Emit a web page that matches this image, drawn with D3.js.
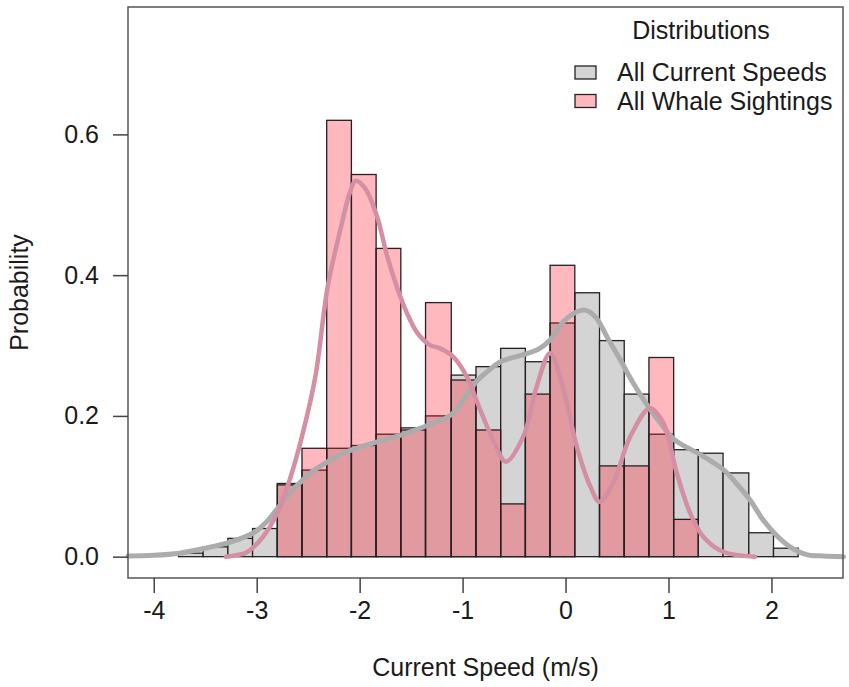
<!DOCTYPE html>
<html>
<head>
<meta charset="utf-8">
<script src="https://cdn.jsdelivr.net/npm/d3@7"></script>
<style>
  body { margin: 0; background: #fff; }
  svg text { font-family: "Liberation Sans", Arial, Helvetica, sans-serif; fill: #1a1a1a; }
</style>
</head>
<body>
<div id="svg"></div>
<script>
// histogram breaks (m/s), shared by both distributions
const breaks = [-3.76, -3.52, -3.28, -3.04, -2.80, -2.56, -2.32, -2.08, -1.84, -1.60,
  -1.36, -1.11, -0.87, -0.63, -0.39, -0.15, 0.09, 0.33, 0.57, 0.81,
  1.05, 1.29, 1.53, 1.78, 2.02, 2.26];

// bin probabilities, one per interval of breaks
const currentProb = [0.005, 0.014, 0.026, 0.040, 0.104, 0.123, 0.154, 0.158, 0.174, 0.183,
  0.200, 0.258, 0.270, 0.296, 0.277, 0.332, 0.375, 0.307, 0.231, 0.174,
  0.152, 0.147, 0.119, 0.034, 0.012];
const whaleProb = [0, 0, 0, 0, 0.102, 0.154, 0.620, 0.543, 0.438, 0.180,
  0.361, 0.251, 0.180, 0.075, 0.231, 0.414, 0, 0.129, 0.129, 0.283,
  0.053, 0, 0, 0, 0];

// density curves [speed, density]
const currentDensity = [[-4.25, 0.001], [-4.0, 0.002], [-3.75, 0.005], [-3.5, 0.012], [-3.25, 0.021],
  [-3.03, 0.034], [-2.9, 0.050], [-2.8, 0.068], [-2.68, 0.090], [-2.56, 0.108], [-2.44, 0.123],
  [-2.32, 0.134], [-2.2, 0.144], [-2.07, 0.152], [-1.83, 0.163], [-1.59, 0.173], [-1.35, 0.186],
  [-1.22, 0.193], [-1.10, 0.203], [-0.98, 0.225], [-0.86, 0.250], [-0.76, 0.263], [-0.63, 0.277],
  [-0.41, 0.287], [-0.25, 0.296], [-0.15, 0.308], [-0.02, 0.334], [0.11, 0.348], [0.20, 0.350],
  [0.30, 0.339], [0.40, 0.313], [0.53, 0.280], [0.66, 0.246], [0.79, 0.216], [0.92, 0.190],
  [1.06, 0.166], [1.31, 0.145], [1.53, 0.124], [1.66, 0.104], [1.79, 0.081], [1.92, 0.052],
  [2.05, 0.030], [2.18, 0.014], [2.34, 0.003], [2.5, 0.001], [2.70, 0.0]];
const whaleDensity = [[-3.30, 0.0], [-3.20, 0.002], [-3.10, 0.006], [-2.94, 0.028], [-2.80, 0.062],
  [-2.68, 0.109], [-2.56, 0.171], [-2.43, 0.256], [-2.31, 0.384], [-2.18, 0.469], [-2.10, 0.515],
  [-2.04, 0.534], [-1.95, 0.524], [-1.83, 0.483], [-1.74, 0.431], [-1.64, 0.384], [-1.54, 0.346],
  [-1.44, 0.318], [-1.32, 0.301], [-1.22, 0.296], [-1.09, 0.284], [-0.96, 0.256], [-0.83, 0.209],
  [-0.70, 0.165], [-0.58, 0.135], [-0.41, 0.171], [-0.28, 0.242], [-0.15, 0.289], [-0.02, 0.237],
  [0.11, 0.156], [0.24, 0.100], [0.33, 0.078], [0.46, 0.104], [0.63, 0.171], [0.82, 0.211],
  [0.95, 0.190], [1.08, 0.119], [1.21, 0.062], [1.34, 0.028], [1.53, 0.007], [1.84, 0.0]];

const xTicks = [-4, -3, -2, -1, 0, 1, 2];
const yTicks = [0, 0.2, 0.4, 0.6];
const legendLabels = ["All Current Speeds", "All Whale Sightings"];

// setup svg component
const width = 849,
      height = 687;
const box = { left: 128, right: 843, top: 7, bottom: 578 };
const fontSize = "25px";

const svg = d3.select("#svg")
  .append("svg")
  .attr("width", width)
  .attr("height", height);

const xScale = d3.scaleLinear()
  .domain([-4.25, 2.695])
  .range([box.left, box.right]);

const yScale = d3.scaleLinear()
  .domain([-0.0303, 0.781])
  .range([box.bottom, box.top]);

const grayFill = "#d4d4d4",
      pinkFill = "rgba(255, 20, 40, 0.3)";

// histogram bars, gray first then translucent pink on top
function drawHist(values, fill, cls) {
  svg.selectAll("rect." + cls)
    .data(values.map((v, i) => ({ x0: breaks[i], x1: breaks[i + 1], p: v })).filter(d => d.p > 0))
    .enter()
    .append("rect")
    .attr("class", cls)
    .attr("x", d => xScale(d.x0))
    .attr("width", d => xScale(d.x1) - xScale(d.x0))
    .attr("y", d => yScale(d.p))
    .attr("height", d => yScale(0) - yScale(d.p))
    .attr("fill", fill)
    .attr("stroke", "#222")
    .attr("stroke-width", 1.3);
}
drawHist(currentProb, grayFill, "current");
drawHist(whaleProb, pinkFill, "whale");

// density lines
const line = d3.line()
  .x(d => xScale(d[0]))
  .y(d => yScale(d[1]))
  .curve(d3.curveCatmullRom.alpha(0.5));

svg.append("path")
  .datum(currentDensity)
  .attr("d", line)
  .attr("fill", "none")
  .attr("stroke", "#acacac")
  .attr("stroke-width", 5)
  .attr("stroke-linecap", "round");

svg.append("path")
  .datum(whaleDensity)
  .attr("d", line)
  .attr("fill", "none")
  .attr("stroke", "#d48fa2")
  .attr("stroke-width", 4.5)
  .attr("stroke-linecap", "round");

// frame
svg.append("rect")
  .attr("x", box.left)
  .attr("y", box.top)
  .attr("width", box.right - box.left)
  .attr("height", box.bottom - box.top)
  .attr("fill", "none")
  .attr("stroke", "#555")
  .attr("stroke-width", 1.5);

// x axis, plain hyphen minus like R
const xAxis = d3.axisBottom(xScale)
  .tickValues(xTicks)
  .tickSize(15)
  .tickPadding(8)
  .tickFormat(d => String(d));
const gx = svg.append("g")
  .attr("transform", "translate(0, " + box.bottom + ")")
  .call(xAxis);
gx.select(".domain").remove();

// y axis
const yAxis = d3.axisLeft(yScale)
  .tickValues(yTicks)
  .tickSize(15)
  .tickPadding(14)
  .tickFormat(d => d.toFixed(1));
const gy = svg.append("g")
  .attr("transform", "translate(" + box.left + ", 0)")
  .call(yAxis);
gy.select(".domain").remove();

svg.selectAll(".tick line").attr("stroke", "#444").attr("stroke-width", 1.5);
svg.selectAll(".tick text").style("font-size", fontSize).attr("fill", "#1a1a1a");

// axis titles
svg.append("text")
  .attr("x", (box.left + box.right) / 2)
  .attr("y", 676)
  .attr("text-anchor", "middle")
  .style("font-size", fontSize)
  .text("Current Speed (m/s)");

svg.append("text")
  .attr("transform", "translate(28, " + (box.top + box.bottom) / 2 + ") rotate(-90)")
  .attr("text-anchor", "middle")
  .style("font-size", fontSize)
  .text("Probability");

// legend
const legend = svg.append("g");
legend.append("text")
  .attr("x", 701)
  .attr("y", 39)
  .attr("text-anchor", "middle")
  .style("font-size", fontSize)
  .text("Distributions");

legend.selectAll("rect")
  .data(legendLabels)
  .enter()
  .append("rect")
  .attr("x", 575)
  .attr("y", (d, i) => 66 + i * 28.5)
  .attr("width", 21)
  .attr("height", 13)
  .attr("fill", (d, i) => i === 0 ? grayFill : pinkFill)
  .attr("stroke", "#222")
  .attr("stroke-width", 1.3);

legend.selectAll("text.item")
  .data(legendLabels)
  .enter()
  .append("text")
  .attr("class", "item")
  .attr("x", 617)
  .attr("y", (d, i) => 81 + i * 29)
  .style("font-size", fontSize)
  .text(d => d);
</script>
</body>
</html>
